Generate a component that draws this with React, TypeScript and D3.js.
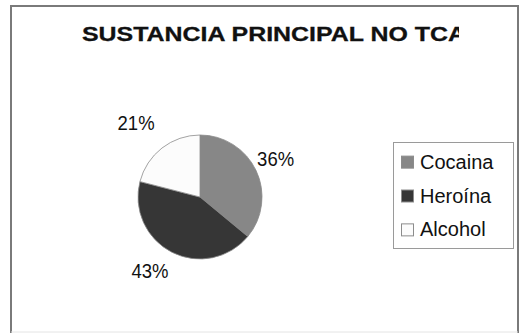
import React from "react";
import * as d3 from "d3";

const title = "SUSTANCIA PRINCIPAL NO TCA";
const categories = ["Cocaina", "Heroína", "Alcohol"];
const values = [36, 43, 21];
const colors = ["#878787", "#363636", "#fcfcfc"];

export default function App() {
  const W = 522, H = 333;
  const cx = 200, cy = 197, r = 62;
  const pie = d3.pie<number>().sort(null).value((d) => d);
  const arcs = pie(values);
  const arc = d3.arc<d3.PieArcDatum<number>>().innerRadius(0).outerRadius(r);
  const total = d3.sum(values);
  const labelR = 88;
  const legendY = d3.scaleBand().domain(categories).range([143, 248]).paddingOuter(0.05);

  return (
    <svg width={W} height={H} style={{ position: "absolute", left: 0, top: 0, background: "#fff" }}
      fontFamily="'Liberation Sans', Arial, sans-serif">
      <defs>
        <clipPath id="titleClip">
          <rect x={0} y={0} width={459} height={60} />
        </clipPath>
      </defs>
      <rect x={0} y={0} width={W} height={H} fill="#fff" />
      <rect x={11} y={6} width={507} height={340} fill="#fff" stroke="#7a7a7a" strokeWidth={2} />
      <line x1={11} x2={518} y1={332} y2={332} stroke="#e4e4e4" strokeWidth={1} />
      <g clipPath="url(#titleClip)">
        <text x={82} y={41} fontSize={20.5} fontWeight="bold" fill="#111" stroke="#111" strokeWidth={0.3}
          textLength={384} lengthAdjust="spacingAndGlyphs">{title}</text>
      </g>
      <g transform={`translate(${cx},${cy})`}>
        {arcs.map((a, i) => (
          <path key={i} d={arc(a) || ""} fill={colors[i]} stroke="#8c8c8c" strokeWidth={0.8} />
        ))}
        {arcs.map((a, i) => {
          const mid = (a.startAngle + a.endAngle) / 2;
          const left = mid > Math.PI;
          const x = Math.sin(mid) * labelR + (left ? -10 : -4);
          const y = -Math.cos(mid) * labelR + (left ? -4 : 0);
          return (
            <text key={i} x={x} y={y} dy="0.35em" textAnchor="middle" fontSize={19.5} fill="#111"
              textLength={37} lengthAdjust="spacingAndGlyphs">
              {d3.format(".0%")(a.value / total)}
            </text>
          );
        })}
      </g>
      <rect x={393.5} y={142.5} width={120} height={106} fill="#fff" stroke="#9a9a9a" strokeWidth={1} />
      {categories.map((c, i) => {
        const y = (legendY(c) || 0) + legendY.bandwidth() / 2;
        return (
          <g key={c}>
            <rect x={401.5} y={y - 5.5} width={12} height={12} fill={colors[i]} stroke="#8c8c8c" strokeWidth={1} />
            <text x={420} y={y} dy="0.35em" fontSize={20} fill="#111">{c}</text>
          </g>
        );
      })}
    </svg>
  );
}
